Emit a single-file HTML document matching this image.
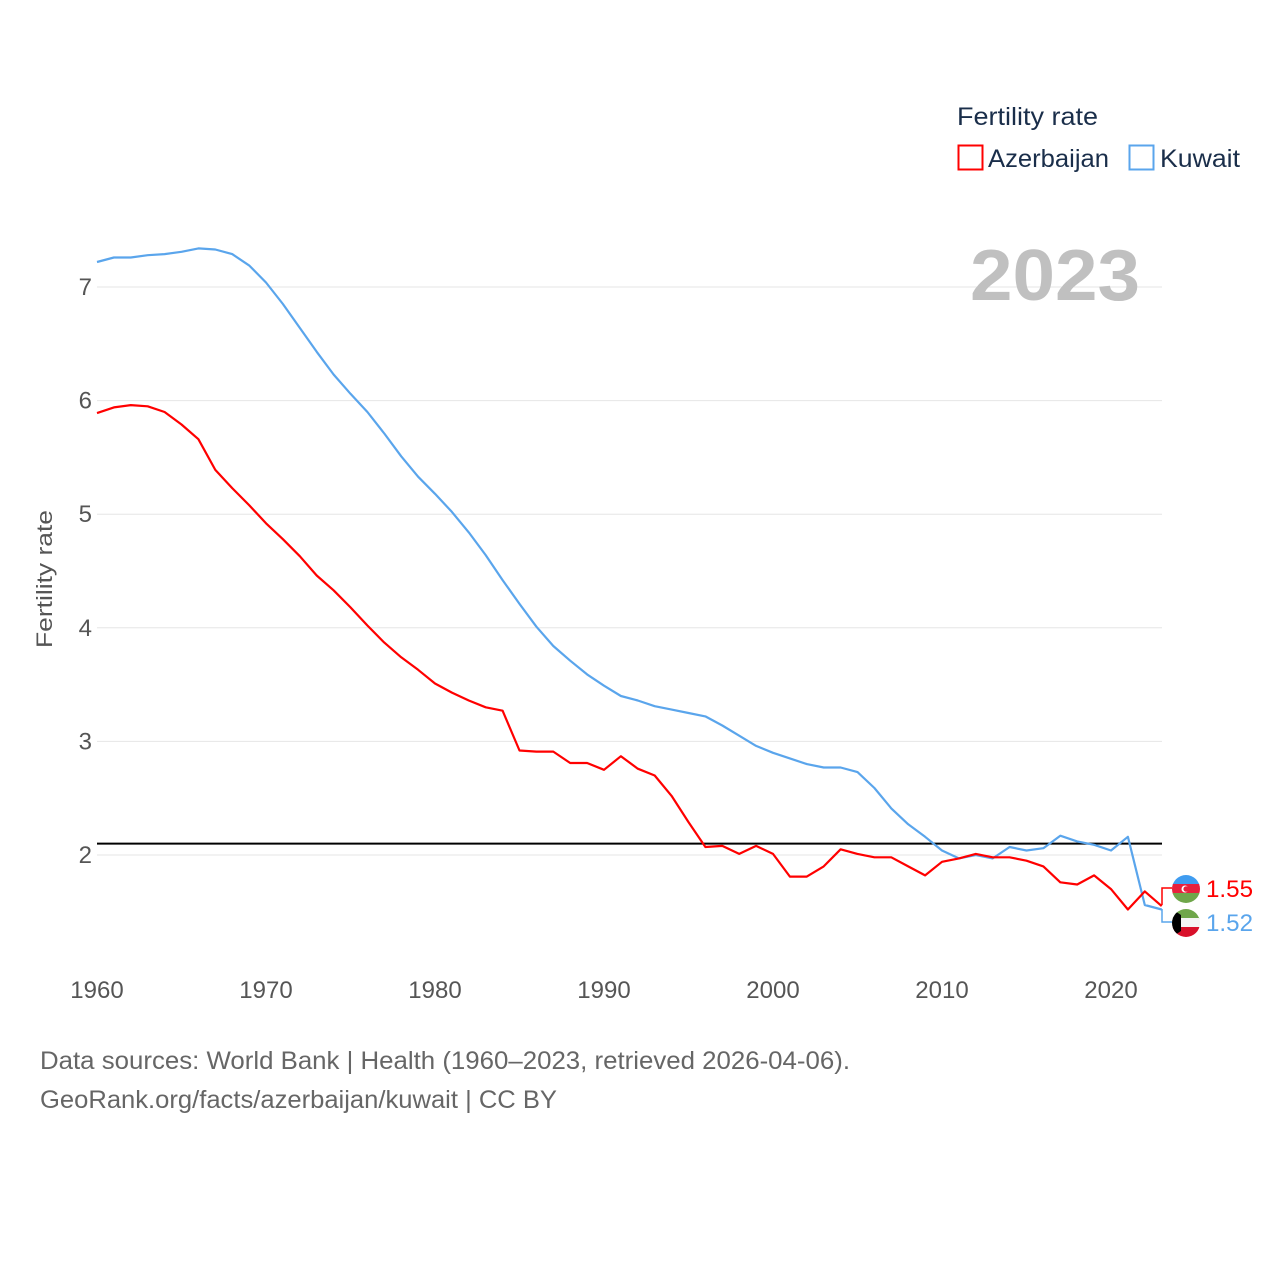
<!DOCTYPE html>
<html><head><meta charset="utf-8"><style>
html,body{margin:0;padding:0;background:#fff;}
svg{display:block;font-family:"Liberation Sans",sans-serif;}
</style></head><body>
<svg id="chart" width="1280" height="1280" viewBox="0 0 1280 1280">
<g id="grid"></g>
<g id="yticks"></g>
<g id="xticks"></g>
<text x="52" y="579" transform="rotate(-90 52 579)" text-anchor="middle" font-size="22" fill="#555" textLength="138" lengthAdjust="spacingAndGlyphs">Fertility rate</text>
<text x="970" y="300" font-size="72" font-weight="bold" fill="#c0c0c0" textLength="170" lengthAdjust="spacingAndGlyphs">2023</text>
<g id="series"></g>
<g>
<text x="957" y="125" font-size="25" fill="#1a2e4a" textLength="141" lengthAdjust="spacingAndGlyphs">Fertility rate</text>
<g><rect x="958.5" y="145.5" width="24" height="24" fill="none" stroke="#ff0000" stroke-width="2"/><text x="988" y="167" font-size="25" fill="#1a2e4a" textLength="121" lengthAdjust="spacingAndGlyphs">Azerbaijan</text></g>
<g><rect x="1129.5" y="145.5" width="24" height="24" fill="none" stroke="#5aa5ec" stroke-width="2"/><text x="1160" y="167" font-size="25" fill="#1a2e4a" textLength="80" lengthAdjust="spacingAndGlyphs">Kuwait</text></g>
</g>
<g>
<path d="M1162 905 L1162 888 L1172 888" fill="none" stroke="#ff0000" stroke-width="1.5"/>
<path d="M1162 909 L1162 922 L1172 922" fill="none" stroke="#5aa5ec" stroke-width="1.5"/>
<defs><clipPath id="c1"><circle cx="1186" cy="889" r="14"/></clipPath><clipPath id="c2"><circle cx="1186" cy="923" r="14"/></clipPath></defs>
<g clip-path="url(#c1)"><rect x="1172" y="875" width="28" height="10" fill="#3f9cf0"/><rect x="1172" y="884" width="28" height="10" fill="#e8203c"/><rect x="1172" y="893" width="28" height="10" fill="#6fa64a"/><circle cx="1185" cy="889" r="3.5" fill="#fff"/><circle cx="1186.2" cy="889" r="2.8" fill="#e8203c"/></g>
<g clip-path="url(#c2)"><rect x="1172" y="909" width="28" height="10" fill="#6fa64a"/><rect x="1172" y="918" width="28" height="10" fill="#f4f4f4"/><rect x="1172" y="927" width="28" height="10" fill="#d8102a"/><polygon points="1172,909 1181,915 1181,931 1172,937" fill="#000"/></g>
<text x="1206" y="897" font-size="24" fill="#ff0000" textLength="47" lengthAdjust="spacingAndGlyphs">1.55</text>
<text x="1206" y="931" font-size="24" fill="#5aa5ec" textLength="47" lengthAdjust="spacingAndGlyphs">1.52</text>
</g>
<text x="40" y="1069" font-size="25" fill="#666" textLength="810" lengthAdjust="spacingAndGlyphs">Data sources: World Bank | Health (1960–2023, retrieved 2026-04-06).</text>
<text x="40" y="1108" font-size="25" fill="#666" textLength="517" lengthAdjust="spacingAndGlyphs">GeoRank.org/facts/azerbaijan/kuwait | CC BY</text>
</svg>
<script>
const years = [];
for (let y = 1960; y <= 2023; y++) years.push(y);
const azerbaijan = [5.89,5.94,5.96,5.95,5.90,5.79,5.66,5.39,5.23,5.08,4.92,4.78,4.63,4.46,4.33,4.18,4.02,3.87,3.74,3.63,3.51,3.43,3.36,3.30,3.27,2.92,2.91,2.91,2.81,2.81,2.75,2.87,2.76,2.70,2.52,2.29,2.07,2.08,2.01,2.08,2.01,1.81,1.81,1.90,2.05,2.01,1.98,1.98,1.90,1.82,1.94,1.97,2.01,1.98,1.98,1.95,1.90,1.76,1.74,1.82,1.70,1.52,1.68,1.55];
const kuwait = [7.22,7.26,7.26,7.28,7.29,7.31,7.34,7.33,7.29,7.19,7.04,6.85,6.64,6.43,6.23,6.06,5.90,5.71,5.51,5.33,5.18,5.02,4.84,4.64,4.42,4.21,4.01,3.84,3.71,3.59,3.49,3.40,3.36,3.31,3.28,3.25,3.22,3.14,3.05,2.96,2.90,2.85,2.80,2.77,2.77,2.73,2.59,2.41,2.27,2.16,2.04,1.97,2.00,1.97,2.07,2.04,2.06,2.17,2.12,2.09,2.04,2.16,1.56,1.52];
const yTicks = [2,3,4,5,6,7];
const xTicks = [1960,1970,1980,1990,2000,2010,2020];
const replacement = [2.1];
const NS = "http://www.w3.org/2000/svg";
const X = yr => 97 + (yr - 1960) * (1014 / 60);
const Y = v => 855 - (v - 2) * 113.6;
function mk(tag, attrs, parent) { const e = document.createElementNS(NS, tag); for (const k in attrs) e.setAttribute(k, attrs[k]); parent.appendChild(e); return e; }
const grid = document.getElementById('grid'), yt = document.getElementById('yticks'), xt = document.getElementById('xticks'), ser = document.getElementById('series');
yTicks.forEach(v => {
  const l = mk('line', {x1: 97, x2: 1162, y1: Y(v), y2: Y(v), stroke: '#e6e6e6', 'stroke-width': 1}, grid);
  
  
  const t = mk('text', {x: 92, y: Y(v) + 8, 'text-anchor': 'end', 'font-size': 24, fill: '#555'}, yt);
  t.textContent = v;
  
  
});
xTicks.forEach(v => {
  const t = mk('text', {x: X(v), y: 998, 'text-anchor': 'middle', 'font-size': 24, fill: '#555'}, xt);
  t.textContent = v;
  
  
});
replacement.forEach(v => {
  const l = mk('line', {x1: 97, x2: 1162, y1: Y(v), y2: Y(v), stroke: '#000', 'stroke-width': 2}, ser);
  
  
});
function line(vals, color, name) {
  const d = vals.map((v, i) => (i ? 'L' : 'M') + X(years[i]).toFixed(1) + ' ' + Y(v).toFixed(1)).join(' ');
  const p = mk('path', {d: d, fill: 'none', stroke: color, 'stroke-width': 2.2, 'stroke-linejoin': 'round'}, ser);
  
  
}
line(kuwait, '#5aa5ec', 'kuwait-line');
line(azerbaijan, '#ff0000', 'azerbaijan-line');
</script>
</body></html>
